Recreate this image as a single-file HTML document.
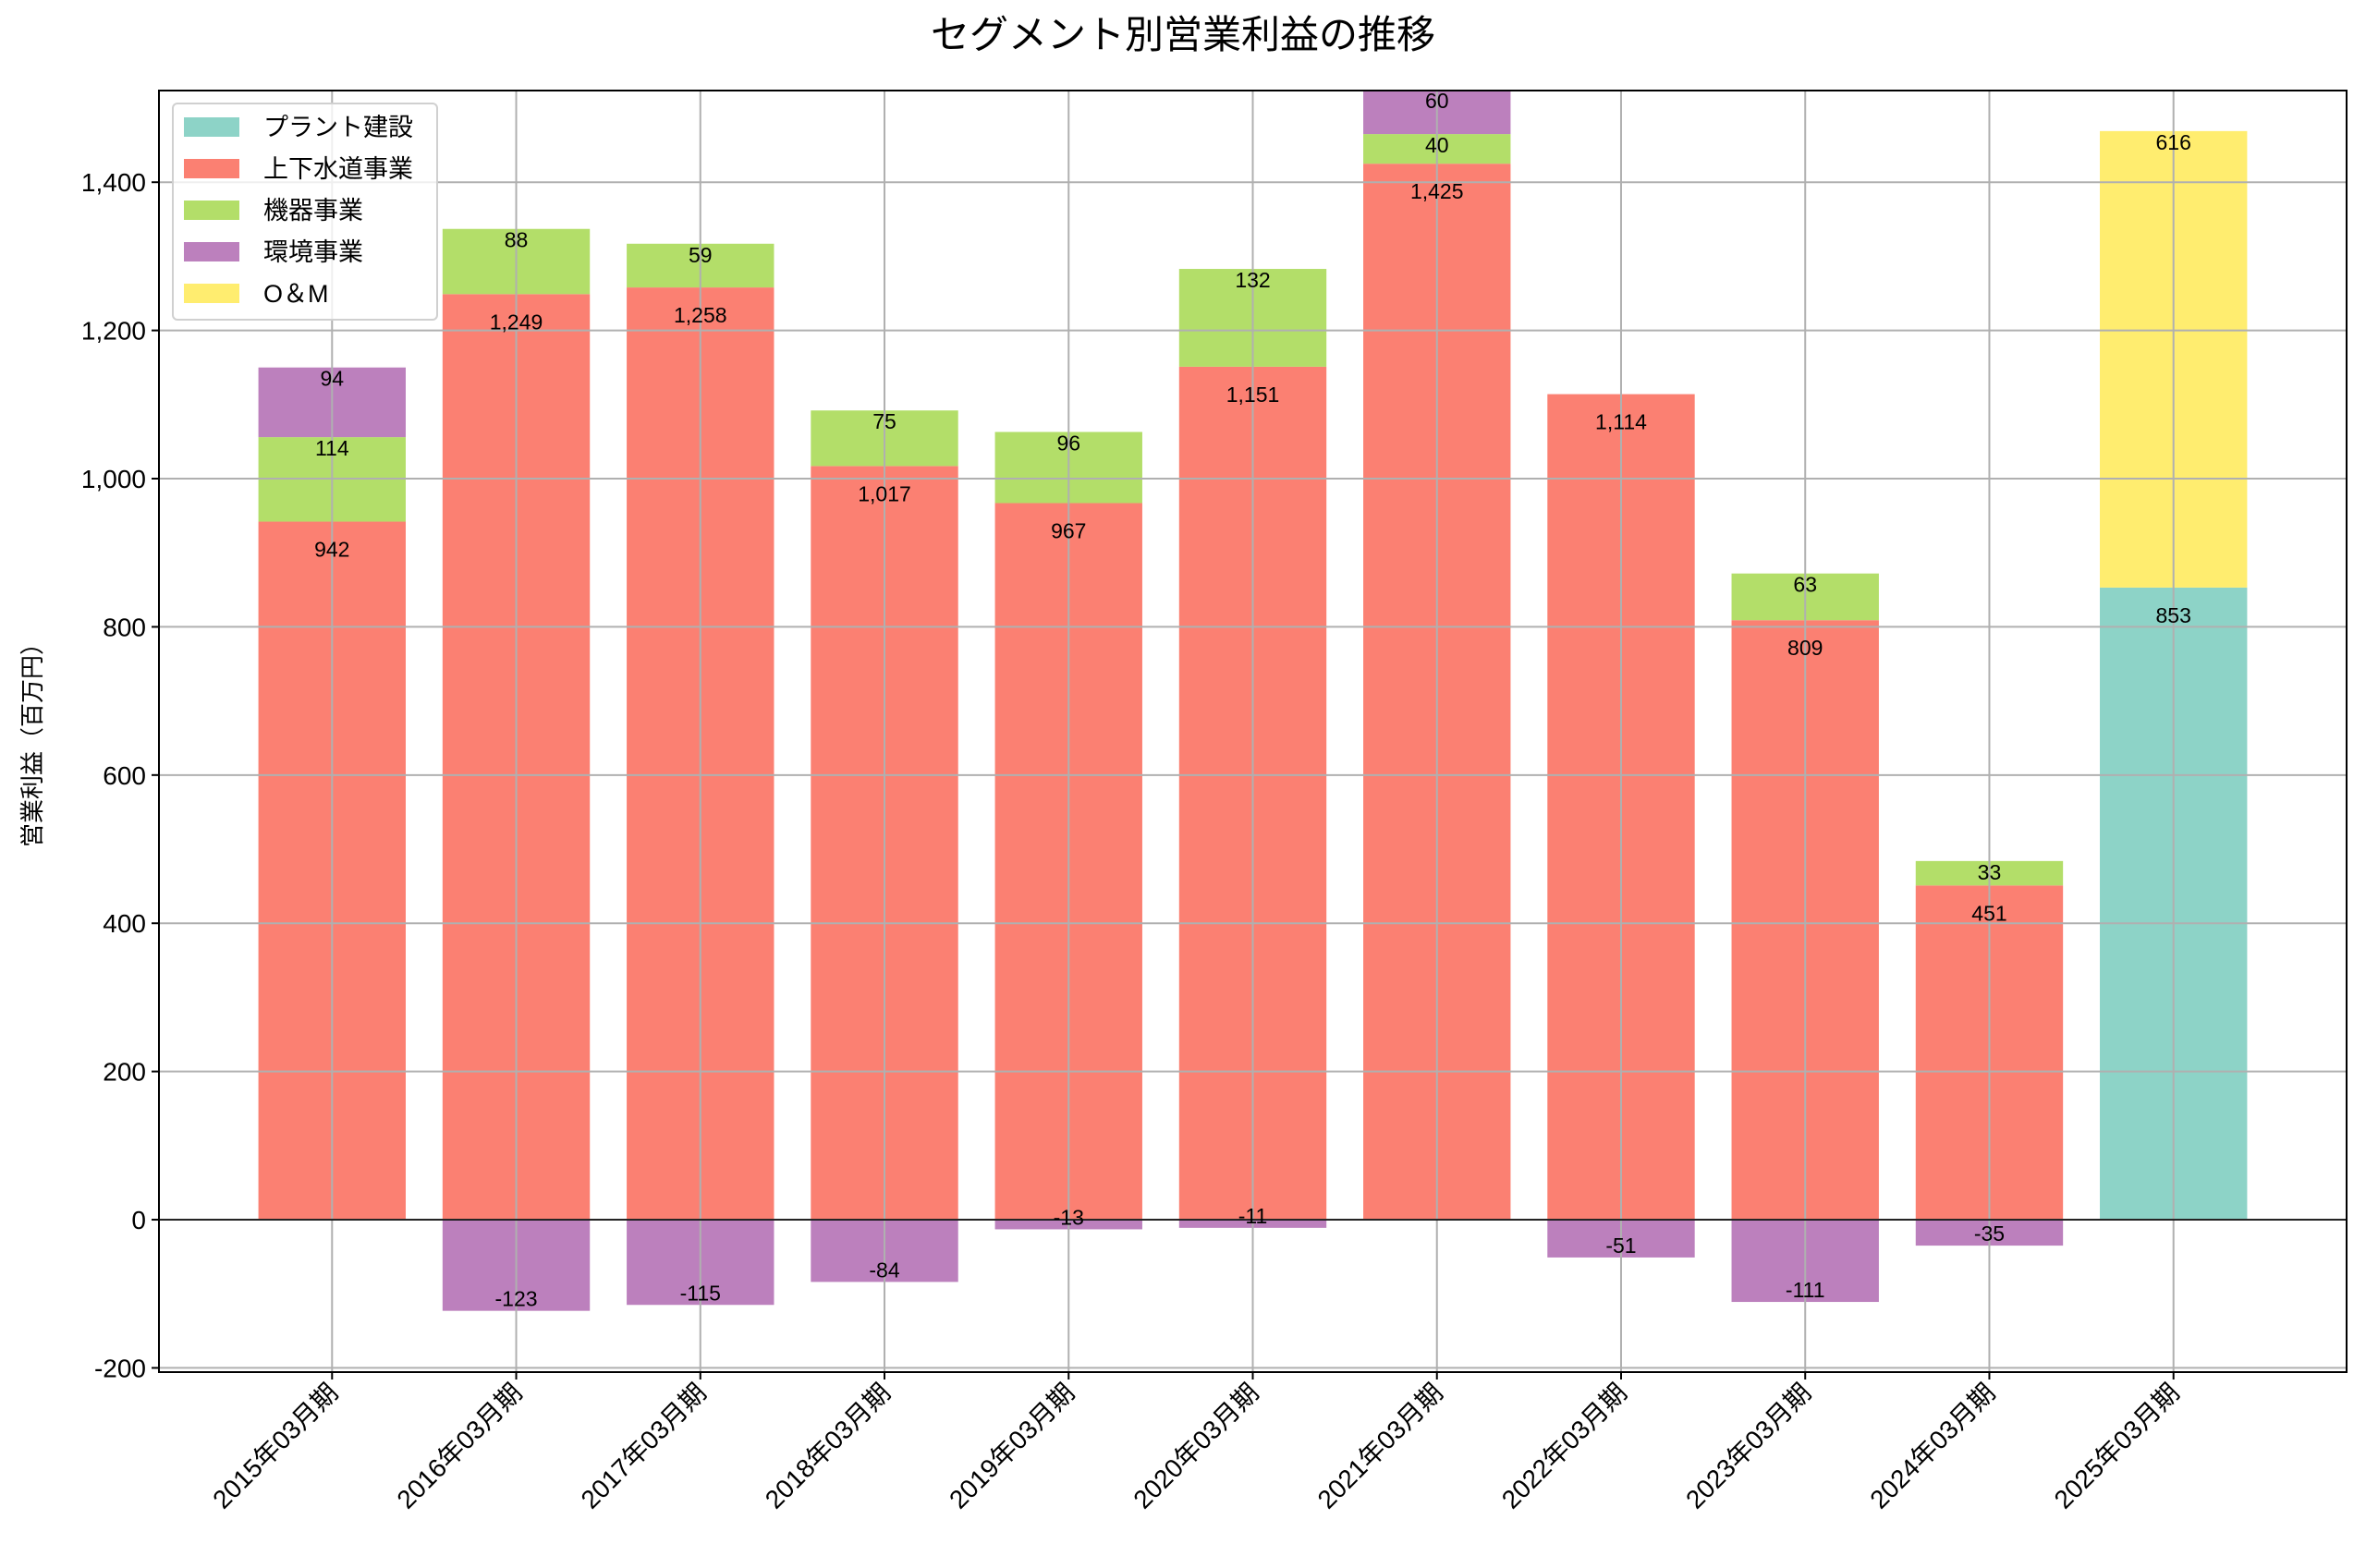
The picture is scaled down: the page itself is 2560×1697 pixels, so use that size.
<!DOCTYPE html>
<html><head><meta charset="utf-8"><style>
html,body{margin:0;padding:0;background:#fff}
svg{display:block}
text{font-family:"Liberation Sans","Noto Sans CJK JP",sans-serif;fill:#000}
</style></head><body>
<svg id="chart" width="2560" height="1697" viewBox="0 0 2560 1697" xmlns="http://www.w3.org/2000/svg">
<text x="1280" y="52" font-size="42" text-anchor="middle">セグメント別営業利益の推移</text>
<text transform="translate(44,800) rotate(-90)" font-size="26" text-anchor="middle">営業利益（百万円）</text>
<g id="bars"></g>
<g id="grid"></g>
<g id="labels"></g>
<g id="axes"></g>
<g id="legend"></g>
</svg>
<script>
const categories=["2015年03月期","2016年03月期","2017年03月期","2018年03月期","2019年03月期","2020年03月期","2021年03月期","2022年03月期","2023年03月期","2024年03月期","2025年03月期"];
const seriesNames=["プラント建設","上下水道事業","機器事業","環境事業","O＆M"];
const plant=[null,null,null,null,null,null,null,null,null,null,853];
const water=[942,1249,1258,1017,967,1151,1425,1114,809,451,null];
const equip=[114,88,59,75,96,132,40,null,63,33,null];
const env=[94,-123,-115,-84,-13,-11,60,-51,-111,-35,null];
const om=[null,null,null,null,null,null,null,null,null,null,616];
const yTicks=[-200,0,200,400,600,800,1000,1200,1400];
const colors=["#8dd3c7","#fb8072","#b3de69","#bc80bd","#ffed6f"];
const L=172,R=2539,T=98,B=1485,X0=-0.94,X1=10.94,Y0=-205.7,Y1=1523.7;
const xs=v=>L+(v-X0)/(X1-X0)*(R-L);
const ys=v=>B-(v-Y0)/(Y1-Y0)*(B-T);
const NS="http://www.w3.org/2000/svg";
function mk(tag,parent,attrs){const e=document.createElementNS(NS,tag);for(const k in attrs)e.setAttribute(k,attrs[k]);parent.appendChild(e);return e;}
const gb=document.getElementById('bars'),gg=document.getElementById('grid'),gl=document.getElementById('labels'),ga=document.getElementById('axes'),gleg=document.getElementById('legend');
const clip=mk('clipPath',document.getElementById('chart'),{id:'pc'});
mk('rect',clip,{x:L,y:T,width:R-L,height:B-T});
gb.setAttribute('clip-path','url(#pc)');
const all=[plant,water,equip,env,om];
const bw=0.8;
const fmt=v=>v.toLocaleString('en-US');
categories.forEach((c,i)=>{
  let pos=0,neg=0;
  all.forEach((s,si)=>{
    const v=s[i]; if(v===null||v===undefined) return;
    let y0,y1;
    if(v>=0){y0=pos;y1=pos+v;pos=y1;}else{y0=neg;y1=neg+v;neg=y1;}
    const top=ys(Math.max(y0,y1)),bot=ys(Math.min(y0,y1));
    const r=mk('rect',gb,{x:xs(i-bw/2),y:top,width:xs(i+bw/2)-xs(i-bw/2),height:bot-top,fill:colors[si]});
    
    
    let ly;
    if(v>=0){ly=top+((si<=1)?30:12);}else{ly=bot-13;}
    const t=mk('text',gl,{x:xs(i),y:ly+8,'font-size':23,'text-anchor':'middle'});
    t.textContent=fmt(v);
    
    
  });
});
// grid
yTicks.forEach(v=>{
  const l=mk('line',gg,{x1:L,x2:R,y1:ys(v),y2:ys(v),stroke:'#b0b0b0','stroke-width':2});
  
  
  mk('line',ga,{x1:L-8,x2:L,y1:ys(v),y2:ys(v),stroke:'#000','stroke-width':2});
  const t=mk('text',ga,{x:L-14,y:ys(v)+10,'font-size':28,'text-anchor':'end'});
  t.textContent=fmt(v);
  
  
});
categories.forEach((c,i)=>{
  const l=mk('line',gg,{x1:xs(i),x2:xs(i),y1:T,y2:B,stroke:'#b0b0b0','stroke-width':2});
  
  
  mk('line',ga,{x1:xs(i),x2:xs(i),y1:B,y2:B+8,stroke:'#000','stroke-width':2});
  const t=mk('text',ga,{'font-size':28,'text-anchor':'end',transform:`translate(${xs(i)+8},${B+24}) rotate(-45)`});
  t.textContent=c;
  
  
});
const z=mk('line',ga,{x1:L,x2:R,y1:ys(0),y2:ys(0),stroke:'#000','stroke-width':1.6});


const fr=mk('rect',ga,{x:L,y:T,width:R-L,height:B-T,fill:'none',stroke:'#000','stroke-width':2});


// legend
mk('rect',gleg,{x:187,y:112,width:286,height:234,rx:5,fill:'#fff','fill-opacity':0.8,stroke:'#d0d0d0','stroke-width':2});
seriesNames.forEach((n,k)=>{
  const cy=137+k*45;
  const p=mk('rect',gleg,{x:199,y:cy-10,width:60,height:21,fill:colors[k]});
  
  
  const t=mk('text',gleg,{x:285,y:cy+10,'font-size':27});
  t.textContent=n;
  
  
});
</script>
</body></html>
